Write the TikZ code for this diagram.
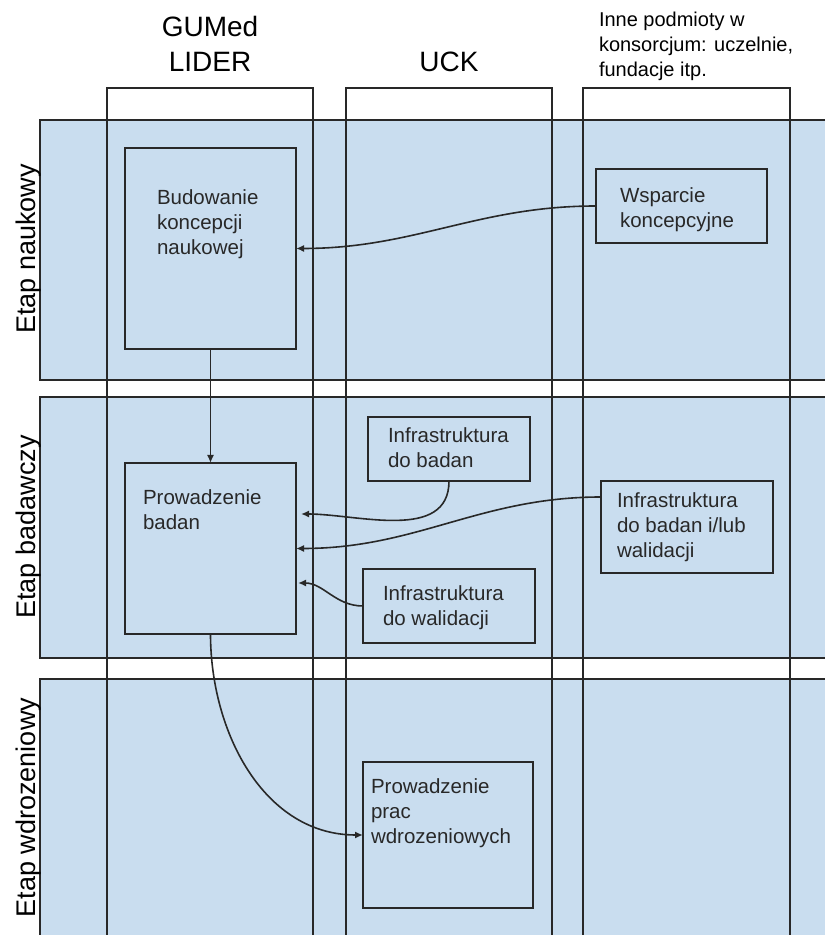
\documentclass[tikz,border=0pt]{standalone}
\usepackage{fontspec}
\setmainfont{Liberation Sans}
\usetikzlibrary{arrows.meta}

\begin{document}
\begin{tikzpicture}[x=1pt,y=1pt,
  bandrow/.style={fill=fillColor,draw=drawColor,line width=1.8pt},
  lanecol/.style={draw=drawColor,line width=1.8pt},
  procbox/.style={fill=fillColor,draw=drawColor,line width=1.8pt,inner sep=0pt,outer sep=0pt},
  boxtext/.style={text=drawColor,anchor=north west,align=left,inner sep=0pt,outer sep=0pt,font=\fontsize{20.5}{25}\selectfont},
  flowarrow/.style={draw=drawColor,line width=1.6pt,-{Latex[length=8pt,width=7pt]}}]
\definecolor{fillColor}{RGB}{201,221,239}
\definecolor{drawColor}{RGB}{40,40,40}
\path[use as bounding box,fill=white] (0,0) rectangle (825,935);
\begin{scope}
\path[clip] (0,0) rectangle (825,935);

% etapy
\path[bandrow] ( 40,815) rectangle (840,555);
\path[bandrow] ( 40,538) rectangle (840,277);
\path[bandrow] ( 40,256) rectangle (840,-10);

% kolumny
\path[lanecol] (107,-10) -- (107,847) -- (313,847) -- (313,-10);
\path[lanecol] (346,-10) -- (346,847) -- (552,847) -- (552,-10);
\path[lanecol] (583,-10) -- (583,847) -- (790,847) -- (790,-10);

% bloki
\node[procbox,minimum width=171pt,minimum height=201pt] (bud) at (210.5,686.5) {};
\node[procbox,minimum width=171pt,minimum height=74pt] (wsp) at (681.5,729) {};
\node[procbox,minimum width=171pt,minimum height=171pt] (prow) at (210.5,386.5) {};
\node[procbox,minimum width=162pt,minimum height=64pt] (infB) at (449,486) {};
\node[procbox,minimum width=172pt,minimum height=92pt] (infBW) at (687,408) {};
\node[procbox,minimum width=172pt,minimum height=74pt] (infW) at (449,329) {};
\node[procbox,minimum width=170pt,minimum height=146pt] (prac) at (448,100) {};

% strzalki
\draw[flowarrow] (wsp.west) to[out=180,in=0] (bud.east);
\draw[flowarrow] (bud.south) -- (prow.north);
\draw[flowarrow,shorten >=5pt] (infB.south) to[out=-90,in=0] ([yshift=34.5pt]prow.east);
\draw[flowarrow] ([yshift=30pt]infBW.west) to[out=180,in=0] (prow.east);
\draw[flowarrow,shorten >=2pt] (infW.west) to[out=180,in=0] ([yshift=-34.5pt]prow.east);
\draw[flowarrow] (prow.south) to[out=-90,in=180] (prac.west);
\end{scope}

% opisy blokow
\node[boxtext] (budT) at (157,745) {Budowanie\\koncepcji\\naukowej};
\node[boxtext] (wspT) at (620,747) {Wsparcie\\koncepcyjne};
\node[boxtext] (prowT) at (143,445) {Prowadzenie\\badan};
\node[boxtext] (infBT) at (388,507) {Infrastruktura\\do badan};
\node[boxtext] (infBWT) at (617,442) {Infrastruktura\\do badan i/lub\\walidacji};
\node[boxtext] (infWT) at (383,349) {Infrastruktura\\do walidacji};
\node[boxtext] (pracT) at (371,156) {Prowadzenie\\prac\\wdrozeniowych};

% naglowki kolumn
\node[text=black,anchor=north,align=center,inner sep=0pt,font=\fontsize{28}{35}\selectfont] (gumed) at (210,918.5) {GUMed\\LIDER};
\node[text=black,anchor=base,inner sep=0pt,font=\fontsize{28}{35}\selectfont] (uck) at (449,863) {UCK};
\node[boxtext,text=black,font=\fontsize{20}{25}\selectfont] (inne) at (599,922.5) {Inne podmioty w\\konsorcjum: uczelnie,\\fundacje itp.};

% naglowki etapow
\node[text=black,rotate=90,anchor=base,inner sep=0pt,font=\fontsize{27}{32}\selectfont] (naukowy) at (35,686) {Etap naukowy};
\node[text=black,rotate=90,anchor=base,inner sep=0pt,font=\fontsize{27}{32}\selectfont] (badawczy) at (35,408) {Etap badawczy};
\node[text=black,rotate=90,anchor=base,inner sep=0pt,font=\fontsize{27}{32}\selectfont] (wdroz) at (35,127.5) {Etap wdrozeniowy};
\end{tikzpicture}
\end{document}
